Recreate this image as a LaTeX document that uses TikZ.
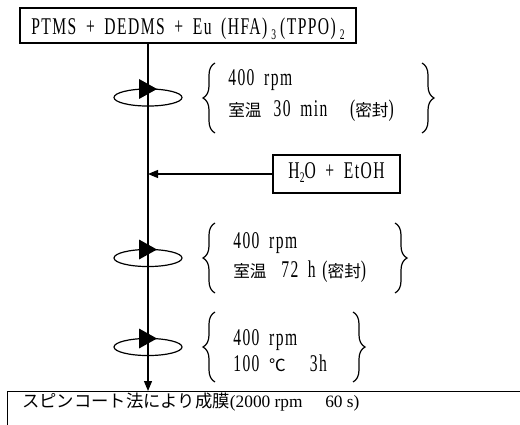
\documentclass[tikz,border=0pt]{standalone}
\usepackage{fontspec}
\setmainfont{Liberation Serif}
\newfontfamily\latf[FakeStretch=0.65,LetterSpace=6,WordSpace=1.8]{Liberation Serif}
\newfontfamily\jpf{Noto Sans CJK JP}
\usetikzlibrary{arrows.meta,decorations.pathreplacing}
\newcommand\mysub[1]{\raisebox{-0.45ex}{\fontsize{11pt}{11pt}\selectfont #1}}
\newcommand\latsize{\latf\fontsize{18pt}{20pt}\selectfont}
\newcommand\jsz{\jpf\fontsize{12.5pt}{15pt}\selectfont}
\begin{document}
\begin{tikzpicture}[x=0.75pt,y=-0.75pt,
  frame/.style={draw, line width=1pt, inner xsep=0pt, inner ysep=0pt},
  lbl/.style={inner sep=0pt, font=\latsize},
  flow/.style={line width=0.9pt, -{Triangle[length=7.5pt,width=6pt]}},
  curly/.style={decorate, decoration={brace, amplitude=9pt}, line width=0.9pt},
  spin/.pic={
    \draw[line width=0.9pt] (0,0) ellipse [x radius=25.5pt, y radius=6.4pt];
    \fill (-9,-18.5) -- (-9,1.5) -- (9,-8.5) -- cycle;
  }
]
\useasboundingbox (0,0) rectangle (520,424);
\clip (0,0) rectangle (520,424);
\coordinate (ax) at (148,0);

% boxes
\node[frame, anchor=base, text height=20.25pt, text depth=6pt,
      minimum width=252pt, font=\latsize] (top) at (188,35)
      {PTMS + DEDMS + Eu (HFA)\,\mysub{3}\,(TPPO)\,\mysub{2}};
\node[frame, anchor=base, text height=17.25pt, text depth=11.25pt,
      minimum width=95.25pt, font=\latsize] (water) at (336.5,178)
      {H\mysub{2}O + EtOH};
\node[frame, anchor=north west, minimum width=420pt, minimum height=40pt] (film) at (7,391) {};
\node[anchor=base west, inner sep=0pt, font=\fontsize{13pt}{15pt}\selectfont] (filmtext) at (22,407)
      {{\jpf スピンコート法により成膜}(2000 rpm\hspace{17pt}60 s)};

% connectors
\draw[flow] (top.south -| ax) -- (film.north -| ax);
\draw[flow] (water.west) -- (water.west -| ax);

% stirring symbols
\pic (spinA) at (148,97.5) {spin};
\pic (spinB) at (148,258) {spin};
\pic (spinC) at (148,347) {spin};

% group 1
\draw[curly] (215,133) -- (215,63);
\draw[curly] (422,63) -- (422,133);
\node[lbl, anchor=base west] (c1a) at (228,86) {400 rpm};
\node[lbl, anchor=base west] (c1b) at (228,117) {{\jsz 室温}\hspace{9pt}30 min\hspace{17pt}({\jsz 密封})};

% group 2
\draw[curly] (215,293) -- (215,223);
\draw[curly] (395,223) -- (395,293);
\node[lbl, anchor=base west] (c2a) at (233,248) {400 rpm};
\node[lbl, anchor=base west] (c2b) at (233,277) {{\jsz 室温}\hspace{11pt}72 h\hspace{5pt}({\jsz 密封})};

% group 3
\draw[curly] (215,382) -- (215,312);
\draw[curly] (353,312) -- (353,382);
\node[lbl, anchor=base west] (c3a) at (233,345) {400 rpm};
\node[lbl, anchor=base west] (c3b) at (233,371) {100 {\jsz ℃}\hspace{18pt}3h};
\end{tikzpicture}
\end{document}
